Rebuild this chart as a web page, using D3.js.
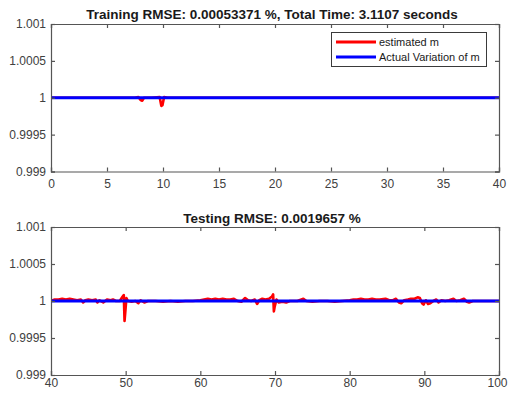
<!DOCTYPE html>
<html>
<head>
<meta charset="utf-8">
<script src="https://cdn.jsdelivr.net/npm/d3@7"></script>
<style>
  body { margin: 0; background: #fff; }
  svg { display: block; font-family: "Liberation Sans", Arial, sans-serif; }
</style>
</head>
<body>
<script>
const w = 508;
const h = 399;

// y ticks shared by both panels
const yTicks = [0.999, 0.9995, 1, 1.0005, 1.001];
const yTickLabels = ["0.999", "0.9995", "1", "1.0005", "1.001"];

// training panel
const trainTitle = "Training RMSE: 0.00053371 %, Total Time: 3.1107 seconds";
const trainXTicks = [0, 5, 10, 15, 20, 25, 30, 35, 40];
const trainX   = [0, 7.5, 7.8, 8.0, 8.15, 8.3, 9.0, 9.7, 9.85, 9.95, 10.1, 10.4, 20, 30, 40];
const trainEst = [1, 1, 1.00001, 0.99997, 0.99996, 1, 1, 1.00001, 0.99989, 0.99990, 1.00001, 1, 1, 1, 1];
const trainActX = [0, 40];
const trainAct  = [1, 1];

// testing panel
const testTitle = "Testing RMSE: 0.0019657 %";
const testXTicks = [40, 50, 60, 70, 80, 90, 100];
const testX = [40, 40.5, 41, 41.5, 42, 42.5, 43, 43.5, 44, 44.3, 44.6, 45, 45.5, 46, 46.2, 46.5, 47, 47.5, 48, 48.3, 48.7,
  49.2, 49.6, 49.75, 49.85, 49.95, 50.1, 50.3, 50.8, 51.3, 51.7, 52, 52.5, 53, 54, 55, 56, 57, 58, 59, 60,
  60.5, 61, 61.5, 62, 62.5, 63, 63.5, 64, 64.5, 65, 65.5, 66, 66.4, 66.8, 67.3, 67.6, 67.9, 68.3, 68.7, 69.2,
  69.6, 69.75, 69.85, 69.95, 70.2, 70.5, 71, 71.5, 72, 73, 73.8, 74.2, 75, 76, 77, 78, 79, 80,
  80.5, 81, 81.5, 82, 82.5, 83, 83.5, 84, 84.8, 85.3, 85.8, 86.2, 86.6, 86.9, 87.3, 87.8, 88.2, 88.7, 89.1, 89.4,
  89.7, 89.9, 90.2, 90.5, 90.8, 91.2, 91.6, 91.9, 92.3, 92.8, 93.3, 93.9, 94.3, 94.8, 95.3, 95.7, 96, 96.5, 97, 98, 99, 100];
const testEst = [1.00000, 1.00002, 1.00002, 1.00003, 1.00002, 1.00003, 1.00002, 1.00001, 1.00002, 0.99998, 1.00001, 1.00002, 1.00001, 1.00002, 0.99998, 1.00001, 0.99998, 1.00002, 1.00001, 1.00002, 1.00000,
  1.00000, 1.00006, 1.00008, 0.99973, 0.99985, 1.00004, 1.00000, 0.99999, 1.00000, 0.99997, 1.00001, 0.99998, 1.00000, 1.00000, 0.99999, 1.00000, 0.99999, 1.00000, 1.00000, 1.00001,
  1.00002, 1.00003, 1.00002, 1.00003, 1.00002, 1.00003, 1.00002, 1.00002, 1.00003, 1.00000, 0.99999, 1.00004, 1.00001, 1.00000, 1.00002, 0.99996, 1.00001, 1.00003, 1.00002, 1.00003,
  1.00006, 1.00009, 0.99986, 0.99992, 1.00002, 0.99998, 0.99999, 0.99998, 1.00000, 1.00000, 1.00003, 1.00000, 0.99999, 1.00000, 1.00000, 0.99999, 1.00000, 1.00001,
  1.00002, 1.00002, 1.00003, 1.00002, 1.00002, 1.00003, 1.00002, 1.00002, 1.00003, 1.00001, 1.00001, 1.00003, 0.99998, 0.99997, 1.00001, 1.00002, 1.00003, 1.00003, 1.00005, 1.00004,
  0.99997, 0.99995, 1.00001, 0.99996, 0.99997, 1.00000, 1.00002, 0.99998, 1.00001, 1.00000, 1.00001, 1.00003, 1.00000, 1.00001, 1.00003, 0.99999, 0.99998, 1.00000, 1.00000, 1.00000, 1.00000, 1.00000];
const testActX = [40, 100];
const testAct  = [1, 1];

const legendLabels = ["estimated m", "Actual Variation of m"];
const estColor = "#ff0000";
const actColor = "#0000ff";
const axisColor = "#555555";
const textColor = "#404040";

const svg = d3.select("body")
    .append("svg")
    .attr("width", w)
    .attr("height", h);

function drawPanel(cfg) {
    const x = d3.scaleLinear().domain(cfg.xDomain).range([51, 499]);
    const y = d3.scaleLinear().domain([0.999, 1.001]).range([cfg.bottom, cfg.top]);

    const g = svg.append("g");

    const line = d3.line()
        .x(d => x(d[0]))
        .y(d => y(d[1]));

    const clip = "clip" + cfg.id;
    svg.append("clipPath").attr("id", clip)
        .append("rect")
        .attr("x", 51).attr("y", cfg.top)
        .attr("width", 448).attr("height", cfg.bottom - cfg.top);

    const plot = g.append("g").attr("clip-path", `url(#${clip})`);
    plot.append("path")
        .datum(d3.zip(cfg.estX, cfg.est))
        .attr("fill", "none")
        .attr("stroke", estColor)
        .attr("stroke-width", 2.6)
        .attr("stroke-linejoin", "round")
        .attr("d", line);
    plot.append("path")
        .datum(d3.zip(cfg.actX, cfg.act))
        .attr("fill", "none")
        .attr("stroke", actColor)
        .attr("stroke-width", 3)
        .attr("d", line);

    const xAxis = d3.axisBottom(x).tickValues(cfg.xTicks).tickSize(-4).tickPadding(cfg.xPad).tickFormat(d3.format("d"));
    const xTop = d3.axisTop(x).tickValues(cfg.xTicks).tickSize(-4).tickFormat("");
    const yAxis = d3.axisLeft(y).tickValues(yTicks).tickSize(-4).tickPadding(5).tickFormat((d, i) => yTickLabels[i]);
    const yRight = d3.axisRight(y).tickValues(yTicks).tickSize(-4).tickFormat("");

    const xg = g.append("g").attr("transform", `translate(0,${cfg.bottom})`).call(xAxis);
    g.append("g").attr("transform", `translate(0,${cfg.top})`).call(xTop);
    g.append("g").attr("transform", "translate(51,0)").call(yAxis);
    g.append("g").attr("transform", "translate(499,0)").call(yRight);

    // keep the last x label inside the window
    xg.selectAll(".tick text").filter(d => d === 100).attr("dx", "-2");

    g.selectAll(".domain, .tick line")
        .attr("stroke", axisColor)
        .attr("stroke-width", 1.2);
    g.selectAll(".tick text")
        .attr("fill", textColor)
        .style("font-size", "12px");

    g.append("text")
        .attr("x", 272)
        .attr("y", cfg.titleY)
        .attr("text-anchor", "middle")
        .attr("fill", "#1a1a1a")
        .style("font-size", "13.5px")
        .style("font-weight", "bold")
        .text(cfg.title);

    return { x, y };
}

drawPanel({
    id: 1, xDomain: [0, 40], top: 24, bottom: 171.5, xPad: 8, titleY: 19,
    xTicks: trainXTicks, title: trainTitle,
    estX: trainX, est: trainEst, actX: trainActX, act: trainAct
});

drawPanel({
    id: 2, xDomain: [40, 100], top: 227, bottom: 375, xPad: 3, titleY: 223,
    xTicks: testXTicks, title: testTitle,
    estX: testX, est: testEst, actX: testActX, act: testAct
});

// legend
const legend = svg.append("g");
legend.append("rect")
    .attr("x", 331.5).attr("y", 32.5)
    .attr("width", 155).attr("height", 34)
    .attr("fill", "#fff")
    .attr("stroke", "#3a3a3a")
    .attr("stroke-width", 1);
[estColor, actColor].forEach((c, i) => {
    const yy = 42 + i * 15;
    legend.append("line")
        .attr("x1", 336).attr("x2", 376)
        .attr("y1", yy).attr("y2", yy)
        .attr("stroke", c).attr("stroke-width", 3);
    legend.append("text")
        .attr("x", 379).attr("y", yy + 4)
        .attr("fill", "#1a1a1a")
        .style("font-size", "11px")
        .text(legendLabels[i]);
});
</script>
</body>
</html>
